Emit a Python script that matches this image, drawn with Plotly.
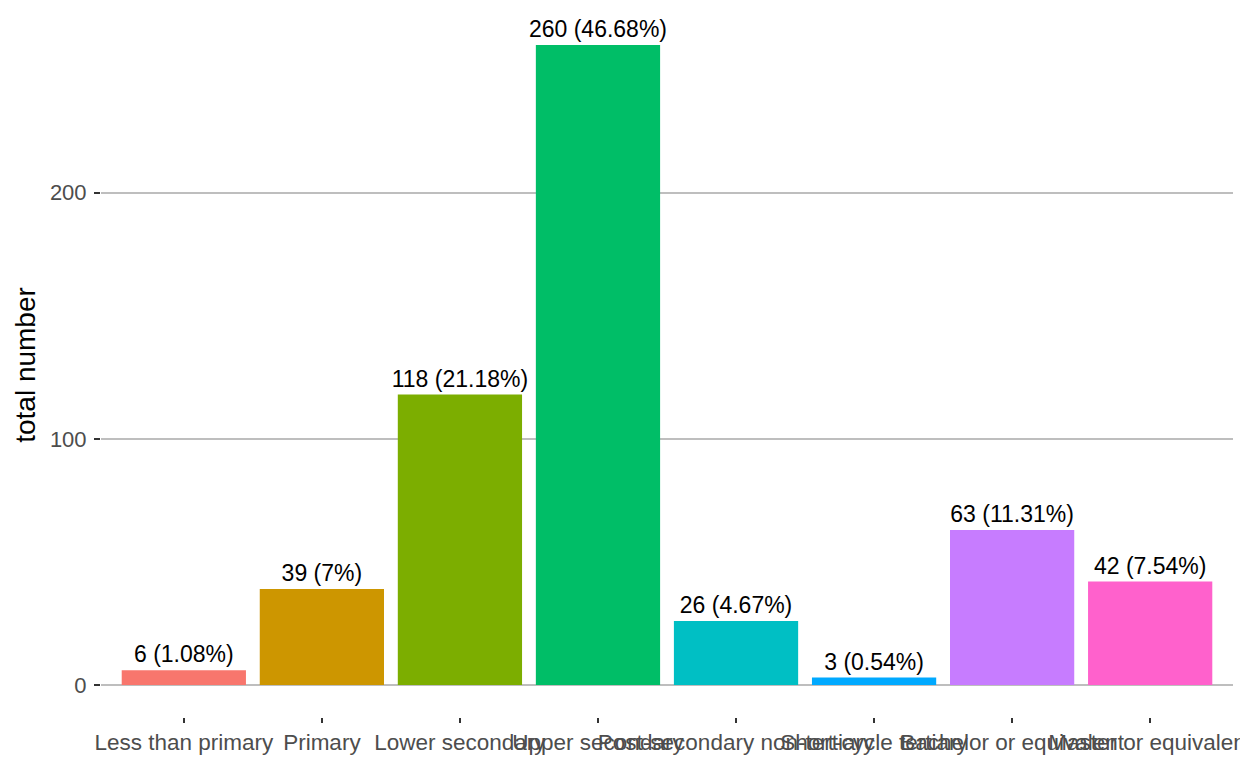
import plotly.graph_objects as go

categories = ["Less than primary", "Primary", "Lower secondary", "Upper secondary",
              "Post-secondary non-tertiary", "Short-cycle tertiary",
              "Bachelor or equivalent", "Master or equivalent"]
counts = [6, 39, 118, 260, 26, 3, 63, 42]
colors = ["#F8766D", "#CD9600", "#7CAE00", "#00BE67", "#00BFC4", "#00A9FF", "#C77CFF", "#FF61CC"]
y_ticks = [0, 100, 200]

total = sum(counts)
labels = [f"{c} ({round(c / total * 100, 2):g}%)" for c in counts]

fig = go.Figure(go.Bar(
    x=categories, y=counts, marker=dict(color=colors, line=dict(width=0)),
    width=0.9, text=labels, textposition="outside", cliponaxis=False,
    constraintext="none",
    textfont=dict(family="Liberation Sans, Arial", size=23, color="black"),
    showlegend=False,
))

# page body adds an 8px offset; compensate in size and margins
fig.update_layout(
    width=1240, height=760,
    margin=dict(l=93, r=15, t=5, b=51),
    plot_bgcolor="white", paper_bgcolor="white",
    font=dict(family="Liberation Sans, Arial"),
)
fig.update_xaxes(
    type="category", range=[-0.6, 7.6], showgrid=False, zeroline=False, showline=False,
    ticks="outside", ticklen=5, tickwidth=1.6, tickcolor="#333333", tickangle=0,
    tickfont=dict(size=22.5, color="#4D4D4D"), automargin=False,
)
fig.update_yaxes(
    range=[-13, 273], tickvals=y_ticks, showgrid=True, gridcolor="#BEBEBE", gridwidth=1.8,
    zeroline=False, showline=False,
    ticks="outside", ticklen=6, tickwidth=1.6, tickcolor="#333333",
    ticklabelstandoff=3,
    tickfont=dict(size=22, color="#4D4D4D"), automargin=False,
    title=dict(text="total number", font=dict(size=28, color="black"), standoff=6),
)

fig.write_html("out.html")
